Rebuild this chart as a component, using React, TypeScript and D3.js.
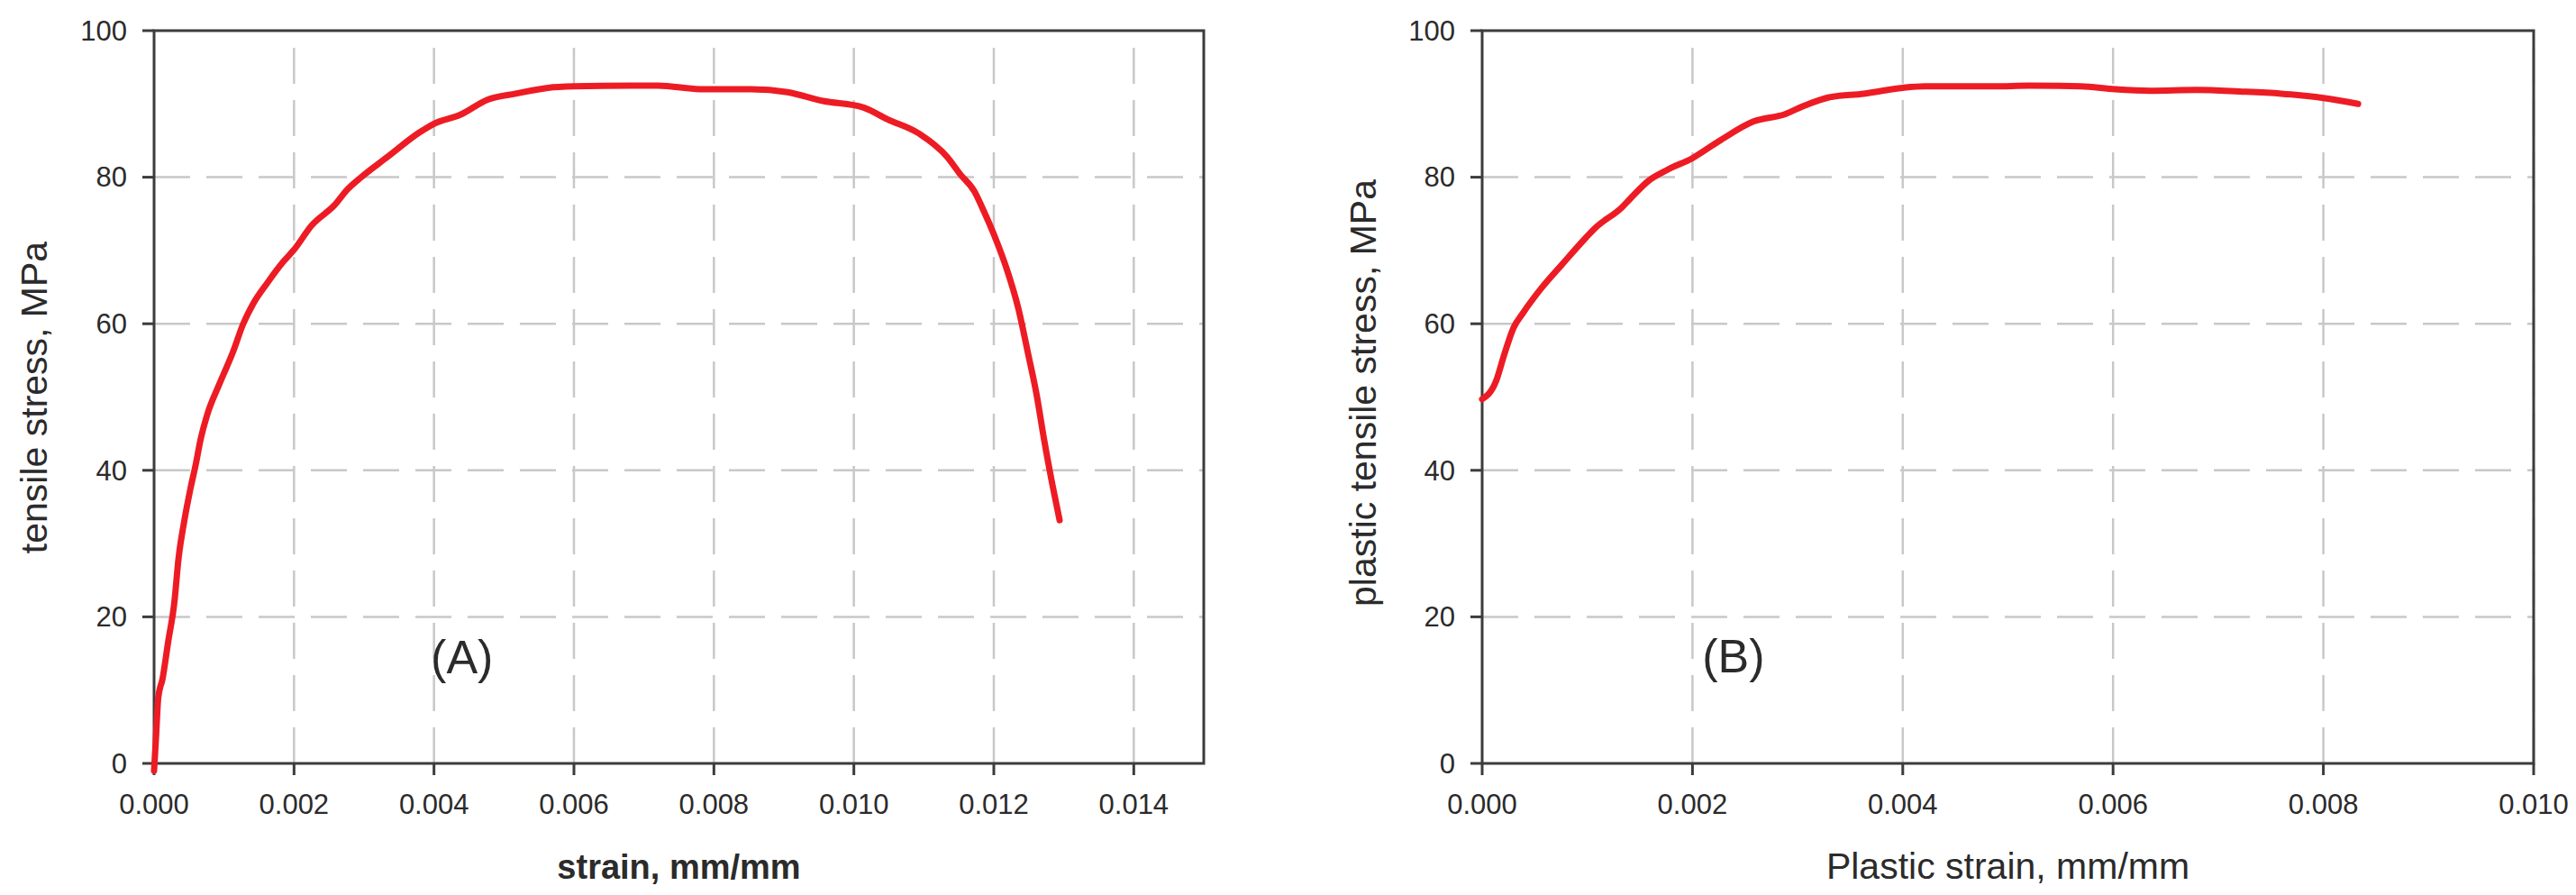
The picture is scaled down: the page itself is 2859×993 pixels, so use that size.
import { useMemo } from "react";
import * as d3 from "d3";

const W = 2859;
const H = 993;
const FONT = "'Liberation Sans', Arial, Helvetica, sans-serif";
const RED = "#ed1c24";
const GRID = "#c8c8c8";
const AXIS = "#3c3c3c";
const TXT = "#2b2b2b";

const TOP = 34;
const BOTTOM = 847;

// (A) tensile stress vs strain
const STRAIN_A = [
  0, 0.00003, 0.00006, 0.00012, 0.0002, 0.00029, 0.00035, 0.00043, 0.00052,
  0.0006, 0.00066, 0.00076, 0.00093, 0.00113, 0.00127, 0.00142, 0.00162,
  0.00185, 0.002, 0.00225, 0.00259, 0.00276, 0.00296, 0.00334, 0.00379, 0.004,
  0.00437, 0.00477, 0.00517, 0.00563, 0.006, 0.0068, 0.0072, 0.00784, 0.00853,
  0.00905, 0.00956, 0.01014, 0.01048, 0.01094, 0.01134, 0.01152, 0.01172,
  0.01186, 0.01203, 0.01218, 0.01235, 0.01249, 0.01261, 0.01272, 0.01284,
  0.01294,
];
const STRESS_A = [
  -1, 4, 9, 11.5, 16.5, 22, 28, 33, 37.5, 41, 44, 47.6, 51.7, 56.2, 59.9, 62.8,
  65.6, 68.5, 70.1, 73.4, 76.3, 78.3, 80, 82.8, 86.1, 87.3, 88.5, 90.6, 91.4,
  92.2, 92.4, 92.5, 92.5, 92.0, 92.0, 91.6, 90.4, 89.5, 87.9, 85.9, 82.7, 80.4,
  78.1, 75.3, 71.5, 67.6, 62.1, 55.9, 50.4, 44.1, 37.9, 33.2,
];

// (B) plastic tensile stress vs plastic strain
const STRAIN_B = [
  0, 0.00013, 0.00021, 0.0003, 0.00039, 0.00056, 0.00076, 0.00099, 0.00107,
  0.00133, 0.00141, 0.00159, 0.00176, 0.002, 0.00225, 0.00258, 0.00288,
  0.00307, 0.0033, 0.00363, 0.004, 0.00421, 0.00487, 0.0052, 0.00569, 0.00602,
  0.00635, 0.0068, 0.0072, 0.0076, 0.008, 0.00833,
];
const STRESS_B = [
  49.7, 52.1, 55.8, 59.5, 61.5, 64.8, 68.1, 71.8, 73.0, 75.9, 77.1, 79.6, 81.0,
  82.6, 84.9, 87.6, 88.6, 89.8, 90.9, 91.4, 92.2, 92.4, 92.4, 92.5, 92.4, 92.0,
  91.8, 91.9, 91.7, 91.4, 90.8, 90.0,
];

const X_TICKS_A = [0, 0.002, 0.004, 0.006, 0.008, 0.01, 0.012, 0.014];
const X_TICKS_B = [0, 0.002, 0.004, 0.006, 0.008, 0.01];
const Y_TICKS = [0, 20, 40, 60, 80, 100];

type PanelProps = {
  left: number;
  right: number;
  xMax: number;
  xTicks: number[];
  xs: number[];
  ys: number[];
  xLabel: string;
  xLabelBold: boolean;
  xLabelSize: number;
  yLabel: string;
  yLabelX: number;
  yLabelY: number;
  tag: string;
  tagAt: [number, number];
};

function Panel(p: PanelProps) {
  const x = useMemo(
    () => d3.scaleLinear().domain([0, p.xMax]).range([p.left, p.right]),
    [p.left, p.right, p.xMax],
  );
  const y = useMemo(
    () => d3.scaleLinear().domain([0, 100]).range([BOTTOM, TOP]),
    [],
  );
  const path = useMemo(() => {
    const pts = p.xs.map((v, i) => [v, p.ys[i]] as [number, number]);
    return d3
      .line<[number, number]>()
      .x((d) => x(d[0]))
      .y((d) => y(d[1]))
      .curve(d3.curveMonotoneX)(pts);
  }, [p.xs, p.ys, x, y]);
  const fmt = d3.format(".3f");

  return (
    <g fontFamily={FONT}>
      {/* grid */}
      <g stroke={GRID} strokeWidth={2.5} strokeDasharray="40 18" fill="none">
        {p.xTicks
          .filter((t) => t > 0)
          .map((t) => (
            <line key={`v${t}`} x1={x(t)} x2={x(t)} y1={BOTTOM} y2={TOP} />
          ))}
        {Y_TICKS.filter((t) => t > 0 && t < 100).map((t) => (
          <line key={`h${t}`} x1={p.left} x2={p.right} y1={y(t)} y2={y(t)} />
        ))}
      </g>

      {/* frame */}
      <rect
        x={p.left}
        y={TOP}
        width={p.right - p.left}
        height={BOTTOM - TOP}
        fill="none"
        stroke={AXIS}
        strokeWidth={3}
      />

      {/* ticks */}
      <g stroke={AXIS} strokeWidth={3}>
        {p.xTicks.map((t) => (
          <line key={`xt${t}`} x1={x(t)} x2={x(t)} y1={BOTTOM} y2={BOTTOM + 13} />
        ))}
        {Y_TICKS.map((t) => (
          <line key={`yt${t}`} x1={p.left - 13} x2={p.left} y1={y(t)} y2={y(t)} />
        ))}
      </g>

      <g fill={TXT} fontSize={31}>
        {p.xTicks.map((t) => (
          <text key={`xl${t}`} x={x(t)} y={903} textAnchor="middle">
            {fmt(t)}
          </text>
        ))}
        {Y_TICKS.map((t) => (
          <text
            key={`yl${t}`}
            x={p.left - 30}
            y={y(t)}
            dy="0.35em"
            textAnchor="end"
          >
            {t}
          </text>
        ))}
      </g>

      <text
        x={(p.left + p.right) / 2}
        y={975}
        textAnchor="middle"
        fontSize={p.xLabelSize}
        fontWeight={p.xLabelBold ? 700 : 400}
        fill={TXT}
      >
        {p.xLabel}
      </text>
      <text
        transform={`translate(${p.yLabelX},${p.yLabelY}) rotate(-90)`}
        textAnchor="middle"
        fontSize={41}
        fill={TXT}
      >
        {p.yLabel}
      </text>

      <text
        x={x(p.tagAt[0])}
        y={y(p.tagAt[1])}
        textAnchor="middle"
        fontSize={52}
        fill={TXT}
      >
        {p.tag}
      </text>

      <path
        d={path ?? ""}
        fill="none"
        stroke={RED}
        strokeWidth={7}
        strokeLinecap="round"
        strokeLinejoin="round"
      />
    </g>
  );
}

export default function App() {
  return (
    <svg
      width={W}
      height={H}
      viewBox={`0 0 ${W} ${H}`}
      style={{ position: "absolute", left: 0, top: 0, background: "#fff" }}
    >
      <rect width={W} height={H} fill="#fff" />
      <Panel
        left={171}
        right={1336}
        xMax={0.015}
        xTicks={X_TICKS_A}
        xs={STRAIN_A}
        ys={STRESS_A}
        xLabel="strain, mm/mm"
        xLabelBold={true}
        xLabelSize={38}
        yLabel="tensile stress, MPa"
        yLabelX={52}
        yLabelY={441}
        tag="(A)"
        tagAt={[0.0044, 12.3]}
      />
      <Panel
        left={1645}
        right={2812}
        xMax={0.01}
        xTicks={X_TICKS_B}
        xs={STRAIN_B}
        ys={STRESS_B}
        xLabel="Plastic strain, mm/mm"
        xLabelBold={false}
        xLabelSize={41}
        yLabel="plastic tensile stress, MPa"
        yLabelX={1527}
        yLabelY={436}
        tag="(B)"
        tagAt={[0.00239, 12.4]}
      />
    </svg>
  );
}
